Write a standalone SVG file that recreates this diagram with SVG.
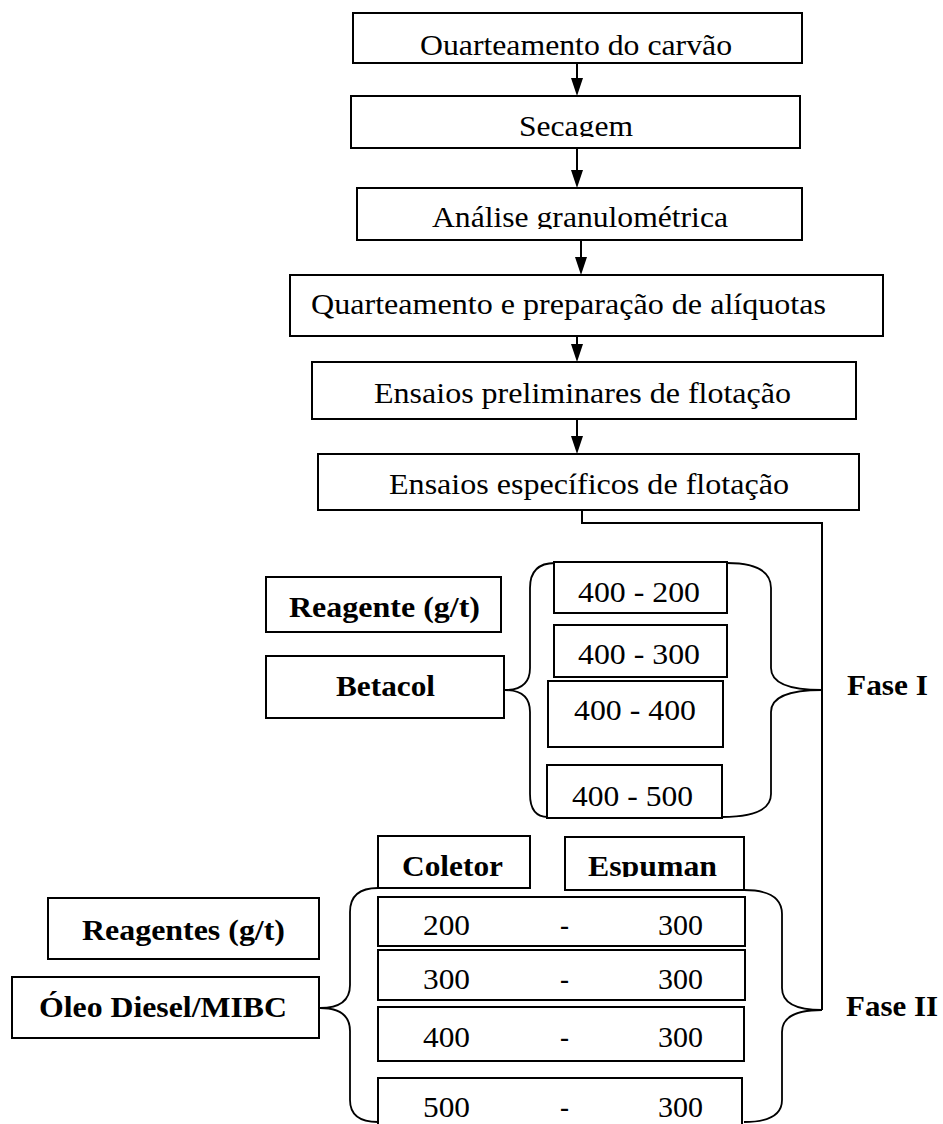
<svg xmlns="http://www.w3.org/2000/svg" width="943" height="1124" viewBox="0 0 943 1124">
<style>
.box{fill:#fff;stroke:#000;stroke-width:2}
.t{font-family:"Liberation Serif","Times New Roman",serif;font-size:30px;fill:#000}
.b{font-weight:bold}
.ln{fill:none;stroke:#000;stroke-width:2}
.br{fill:none;stroke:#000;stroke-width:1.8}
</style>
<defs>
<marker id="ah" markerUnits="userSpaceOnUse" markerWidth="12" markerHeight="18" refX="6" refY="18" orient="auto-start-reverse" viewBox="0 0 12 18">
<path d="M0,0 L12,0 L6,18 Z" fill="#000" transform="rotate(0)"/>
</marker>
<clipPath id="c1"><rect x="353" y="13" width="449" height="44"/></clipPath>
<clipPath id="c2"><rect x="351" y="96" width="449" height="41"/></clipPath>
<clipPath id="c3"><rect x="357" y="188" width="445" height="41"/></clipPath>
<clipPath id="c4"><rect x="554" y="562" width="173" height="41"/></clipPath>
<clipPath id="c5"><rect x="565" y="837" width="179" height="40"/></clipPath>
<clipPath id="c6"><rect x="378" y="897" width="367" height="39"/></clipPath>
<clipPath id="c7"><rect x="378" y="1078" width="367" height="40"/></clipPath>
</defs>

<g id="connectors">
<line class="ln" x1="577" y1="63" x2="577" y2="79"/><path d="M571,78 L583,78 L577,96 Z"/>
<line class="ln" x1="577" y1="148" x2="577" y2="171"/><path d="M571,170 L583,170 L577,188 Z"/>
<line class="ln" x1="581" y1="240" x2="581" y2="258"/><path d="M575,257 L587,257 L581,275 Z"/>
<line class="ln" x1="577" y1="336" x2="577" y2="345"/><path d="M571,344 L583,344 L577,362 Z"/>
<line class="ln" x1="577" y1="419" x2="577" y2="437"/><path d="M571,436 L583,436 L577,454 Z"/>
<polyline class="ln" points="582,510 582,523 822,523 822,1010"/>
</g>

<g id="n1"><rect class="box" x="353" y="13" width="449" height="50"/><text class="t" x="420" y="55" textLength="312" lengthAdjust="spacingAndGlyphs" clip-path="url(#c1)">Ouarteamento do carvão</text></g>
<g id="n2"><rect class="box" x="351" y="96" width="449" height="52"/><text class="t" x="519" y="136" textLength="114" lengthAdjust="spacingAndGlyphs" clip-path="url(#c2)">Secagem</text></g>
<g id="n3"><rect class="box" x="357" y="188" width="445" height="52"/><text class="t" x="432" y="227" textLength="296" lengthAdjust="spacingAndGlyphs" clip-path="url(#c3)">Análise granulométrica</text></g>
<g id="n4"><rect class="box" x="290" y="275" width="593" height="61"/><text class="t" x="311" y="314" textLength="515" lengthAdjust="spacingAndGlyphs">Quarteamento e preparação de alíquotas</text></g>
<g id="n5"><rect class="box" x="312" y="362" width="544" height="57"/><text class="t" x="374" y="403" textLength="417" lengthAdjust="spacingAndGlyphs">Ensaios preliminares de flotação</text></g>
<g id="n6"><rect class="box" x="318" y="454" width="541" height="56"/><text class="t" x="389" y="494" textLength="400" lengthAdjust="spacingAndGlyphs">Ensaios específicos de flotação</text></g>

<g id="reagente"><rect class="box" x="266" y="577" width="235" height="55"/><text class="t b" x="289" y="617" textLength="191" lengthAdjust="spacingAndGlyphs">Reagente (g/t)</text></g>
<g id="betacol"><rect class="box" x="266" y="656" width="238" height="62"/><text class="t b" x="336" y="696" textLength="99" lengthAdjust="spacingAndGlyphs">Betacol</text></g>

<g id="brackets1">
<path class="br" d="M555,563 Q530,563 530,588 L530,668 Q530,690 505,690 Q530,690 530,712 L530,794 Q530,817 548,817"/>
<path class="br" d="M727,563 Q771,563 771,588 L771,668 Q771,690 822,690 Q771,690 771,712 L771,794 Q771,817 722,817"/>
</g>

<g id="f1a"><rect class="box" x="554" y="562" width="173" height="51"/><text class="t" x="578" y="602" textLength="122" lengthAdjust="spacingAndGlyphs" clip-path="url(#c4)">400 - 200</text></g>
<g id="f1b"><rect class="box" x="554" y="625" width="173" height="52"/><text class="t" x="578" y="664" textLength="122" lengthAdjust="spacingAndGlyphs">400 - 300</text></g>
<g id="f1c"><rect class="box" x="548" y="681" width="175" height="66"/><text class="t" x="574" y="720" textLength="122" lengthAdjust="spacingAndGlyphs">400 - 400</text></g>
<g id="f1d"><rect class="box" x="547" y="765" width="175" height="53"/><text class="t" x="572" y="806" textLength="121" lengthAdjust="spacingAndGlyphs">400 - 500</text></g>

<g id="fase1"><text class="t b" x="847" y="695" textLength="81" lengthAdjust="spacingAndGlyphs">Fase I</text></g>

<g id="coletor"><rect class="box" x="378" y="836" width="152" height="52"/><text class="t b" x="402" y="876" textLength="101" lengthAdjust="spacingAndGlyphs">Coletor</text></g>
<g id="espuman"><rect class="box" x="565" y="837" width="179" height="53"/><text class="t b" x="588" y="876" textLength="129" lengthAdjust="spacingAndGlyphs" clip-path="url(#c5)">Espuman</text></g>
<g id="reagentes"><rect class="box" x="48" y="898" width="271" height="61"/><text class="t b" x="82" y="940" textLength="203" lengthAdjust="spacingAndGlyphs">Reagentes (g/t)</text></g>
<g id="oleo"><rect class="box" x="12" y="977" width="307" height="61"/><text class="t b" x="39" y="1017" textLength="248" lengthAdjust="spacingAndGlyphs">Óleo Diesel/MIBC</text></g>

<g id="brackets2">
<path class="br" d="M378,888 Q350,888 350,912 L350,985 Q350,1008 320,1008 Q350,1008 350,1031 L350,1100 Q350,1122 378,1122"/>
<path class="br" d="M744,890 Q782,890 782,914 L782,988 Q782,1010 822,1010 Q782,1010 782,1032 L782,1100 Q782,1122 744,1122"/>
</g>

<g id="r1"><rect class="box" x="378" y="897" width="367" height="49"/><g clip-path="url(#c6)"><text class="t" x="423" y="935" textLength="47" lengthAdjust="spacingAndGlyphs">200</text><text class="t" x="560" y="935" textLength="9" lengthAdjust="spacingAndGlyphs">-</text><text class="t" x="658" y="935" textLength="45" lengthAdjust="spacingAndGlyphs">300</text></g></g>
<g id="r2"><rect class="box" x="378" y="950" width="367" height="50"/><text class="t" x="423" y="989" textLength="47" lengthAdjust="spacingAndGlyphs">300</text><text class="t" x="560" y="989" textLength="9" lengthAdjust="spacingAndGlyphs">-</text><text class="t" x="658" y="989" textLength="45" lengthAdjust="spacingAndGlyphs">300</text></g>
<g id="r3"><rect class="box" x="378" y="1007" width="366" height="54"/><text class="t" x="423" y="1047" textLength="47" lengthAdjust="spacingAndGlyphs">400</text><text class="t" x="560" y="1047" textLength="9" lengthAdjust="spacingAndGlyphs">-</text><text class="t" x="658" y="1047" textLength="45" lengthAdjust="spacingAndGlyphs">300</text></g>
<g id="r4"><rect class="box" x="378" y="1078" width="364" height="60"/><g clip-path="url(#c7)"><text class="t" x="423" y="1117" textLength="47" lengthAdjust="spacingAndGlyphs">500</text><text class="t" x="560" y="1117" textLength="9" lengthAdjust="spacingAndGlyphs">-</text><text class="t" x="658" y="1117" textLength="45" lengthAdjust="spacingAndGlyphs">300</text></g></g>

<g id="fase2"><text class="t b" x="846" y="1016" textLength="92" lengthAdjust="spacingAndGlyphs">Fase II</text></g>
</svg>
